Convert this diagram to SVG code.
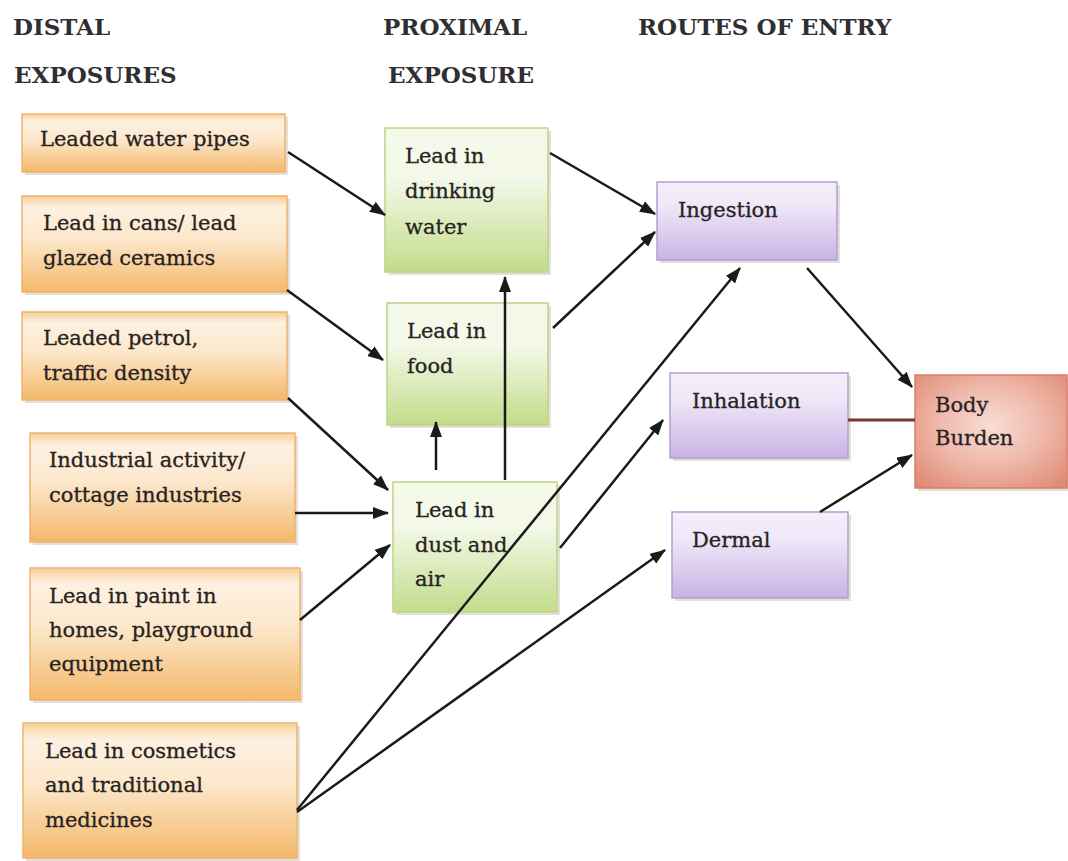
<svg xmlns="http://www.w3.org/2000/svg" width="1068" height="861" viewBox="0 0 1068 861">
<defs>
<linearGradient id="gO" x1="0" y1="0" x2="0" y2="1">
<stop offset="0" stop-color="#f6cf98"/><stop offset="0.12" stop-color="#fdf1e2"/><stop offset="0.45" stop-color="#fce7cb"/><stop offset="1" stop-color="#f4b86a"/>
</linearGradient>
<linearGradient id="gG" x1="0" y1="0" x2="0" y2="1">
<stop offset="0" stop-color="#f4f9ea"/><stop offset="0.35" stop-color="#f3f8e8"/><stop offset="1" stop-color="#c2dc8a"/>
</linearGradient>
<linearGradient id="gP" x1="0" y1="0" x2="0" y2="1">
<stop offset="0" stop-color="#f4effb"/><stop offset="0.3" stop-color="#efe8f8"/><stop offset="1" stop-color="#c9b3e5"/>
</linearGradient>
<radialGradient id="gB" cx="0.5" cy="0.45" r="0.7">
<stop offset="0" stop-color="#f8ddd6"/><stop offset="0.5" stop-color="#efb8aa"/><stop offset="1" stop-color="#df8a74"/>
</radialGradient>
<marker id="ah" markerUnits="userSpaceOnUse" markerWidth="16" markerHeight="12" refX="15" refY="6" orient="auto">
<path d="M0,0 L16,6 L0,12 z" fill="#1a1a1a"/>
</marker>
<style>
text{font-family:"DejaVu Serif","Liberation Serif",serif}
.t{font-size:21px;fill:#272322;stroke:#272322;stroke-width:0.3}
.h{font-size:23px;font-weight:bold;fill:#2f2f33}
.o{fill:url(#gO);stroke:#efb36c;stroke-width:1.5}
.g{fill:url(#gG);stroke:#bcd585;stroke-width:1.5}
.p{fill:url(#gP);stroke:#b59dd4;stroke-width:1.5}
.b{fill:url(#gB);stroke:#d77e6a;stroke-width:1.5}
.sh{fill:#d9d2c8;opacity:0.7}
.ca{stroke:#1a1a1a;stroke-width:2.5;fill:none;marker-end:url(#ah)}
</style>
</defs>
<rect width="1068" height="861" fill="#ffffff"/>

<g id="headers">
<text class="h" x="13" y="35">DISTAL</text>
<text class="h" x="14" y="83">EXPOSURES</text>
<text class="h" x="383" y="35">PROXIMAL</text>
<text class="h" x="388" y="83">EXPOSURE</text>
<text class="h" x="638" y="35">ROUTES OF ENTRY</text>
</g>

<g id="n-water-pipes">
<rect class="sh" x="25" y="117" width="263" height="58"/>
<rect class="o" x="22" y="114" width="263" height="58"/>
<text class="t" x="40" y="146">Leaded water pipes</text>
</g>
<g id="n-cans">
<rect class="sh" x="25" y="199" width="265" height="96"/>
<rect class="o" x="22" y="196" width="265" height="96"/>
<text class="t" x="43" y="230">Lead in cans/ lead</text>
<text class="t" x="43" y="265">glazed ceramics</text>
</g>
<g id="n-petrol">
<rect class="sh" x="25" y="315" width="265" height="88"/>
<rect class="o" x="22" y="312" width="265" height="88"/>
<text class="t" x="43" y="345">Leaded petrol,</text>
<text class="t" x="43" y="380">traffic density</text>
</g>
<g id="n-industrial">
<rect class="sh" x="33" y="436" width="265" height="109"/>
<rect class="o" x="30" y="433" width="265" height="109"/>
<text class="t" x="49" y="467">Industrial activity/</text>
<text class="t" x="49" y="502">cottage industries</text>
</g>
<g id="n-paint">
<rect class="sh" x="33" y="571" width="270" height="132"/>
<rect class="o" x="30" y="568" width="270" height="132"/>
<text class="t" x="49" y="603">Lead in paint in</text>
<text class="t" x="49" y="637">homes, playground</text>
<text class="t" x="49" y="671">equipment</text>
</g>
<g id="n-cosmetics">
<rect class="sh" x="26" y="726" width="274" height="135"/>
<rect class="o" x="23" y="723" width="274" height="135"/>
<text class="t" x="45" y="758">Lead in cosmetics</text>
<text class="t" x="45" y="792">and traditional</text>
<text class="t" x="45" y="827">medicines</text>
</g>

<g id="n-drinking-water">
<rect class="sh" x="388" y="131" width="163" height="144"/>
<rect class="g" x="385" y="128" width="163" height="144"/>
<text class="t" x="405" y="163">Lead in</text>
<text class="t" x="405" y="198">drinking</text>
<text class="t" x="405" y="234">water</text>
</g>
<g id="n-food">
<rect class="sh" x="390" y="306" width="161" height="122"/>
<rect class="g" x="387" y="303" width="161" height="122"/>
<text class="t" x="407" y="338">Lead in</text>
<text class="t" x="407" y="373">food</text>
</g>
<g id="n-dust">
<rect class="sh" x="396" y="485" width="164" height="130"/>
<rect class="g" x="393" y="482" width="164" height="130"/>
<text class="t" x="415" y="517">Lead in</text>
<text class="t" x="415" y="552">dust and</text>
<text class="t" x="415" y="586">air</text>
</g>

<g id="n-ingestion">
<rect class="sh" x="660" y="185" width="180" height="78"/>
<rect class="p" x="657" y="182" width="180" height="78"/>
<text class="t" x="678" y="217">Ingestion</text>
</g>
<g id="n-inhalation">
<rect class="sh" x="673" y="376" width="178" height="85"/>
<rect class="p" x="670" y="373" width="178" height="85"/>
<text class="t" x="692" y="408">Inhalation</text>
</g>
<g id="n-dermal">
<rect class="sh" x="675" y="515" width="176" height="86"/>
<rect class="p" x="672" y="512" width="176" height="86"/>
<text class="t" x="692" y="547">Dermal</text>
</g>
<g id="n-body-burden">
<rect class="sh" x="918" y="378" width="150" height="113"/>
<rect class="b" x="915" y="375" width="152" height="113"/>
<text class="t" x="935" y="412">Body</text>
<text class="t" x="935" y="445">Burden</text>
</g>

<g id="connectors">
<path class="ca" d="M288,152 L385,215"/>
<path class="ca" d="M287,290 L383,360"/>
<path class="ca" d="M288,398 L388,490"/>
<path class="ca" d="M295,513 L388,513"/>
<path class="ca" d="M300,620 L390,545"/>
<path class="ca" d="M297,810 L740,268"/>
<path class="ca" d="M297,812 L665,550"/>
<path class="ca" d="M436,470 L436,422"/>
<path class="ca" d="M505,480 L505,277"/>
<path class="ca" d="M550,153 L655,214"/>
<path class="ca" d="M553,328 L655,232"/>
<path class="ca" d="M560,548 L663,420"/>
<path class="ca" d="M807,268 L912,387"/>
<path d="M848,420 L915,420" stroke="#7a3535" stroke-width="3" fill="none"/>
<path class="ca" d="M820,512 L912,455"/>
</g>
</svg>
